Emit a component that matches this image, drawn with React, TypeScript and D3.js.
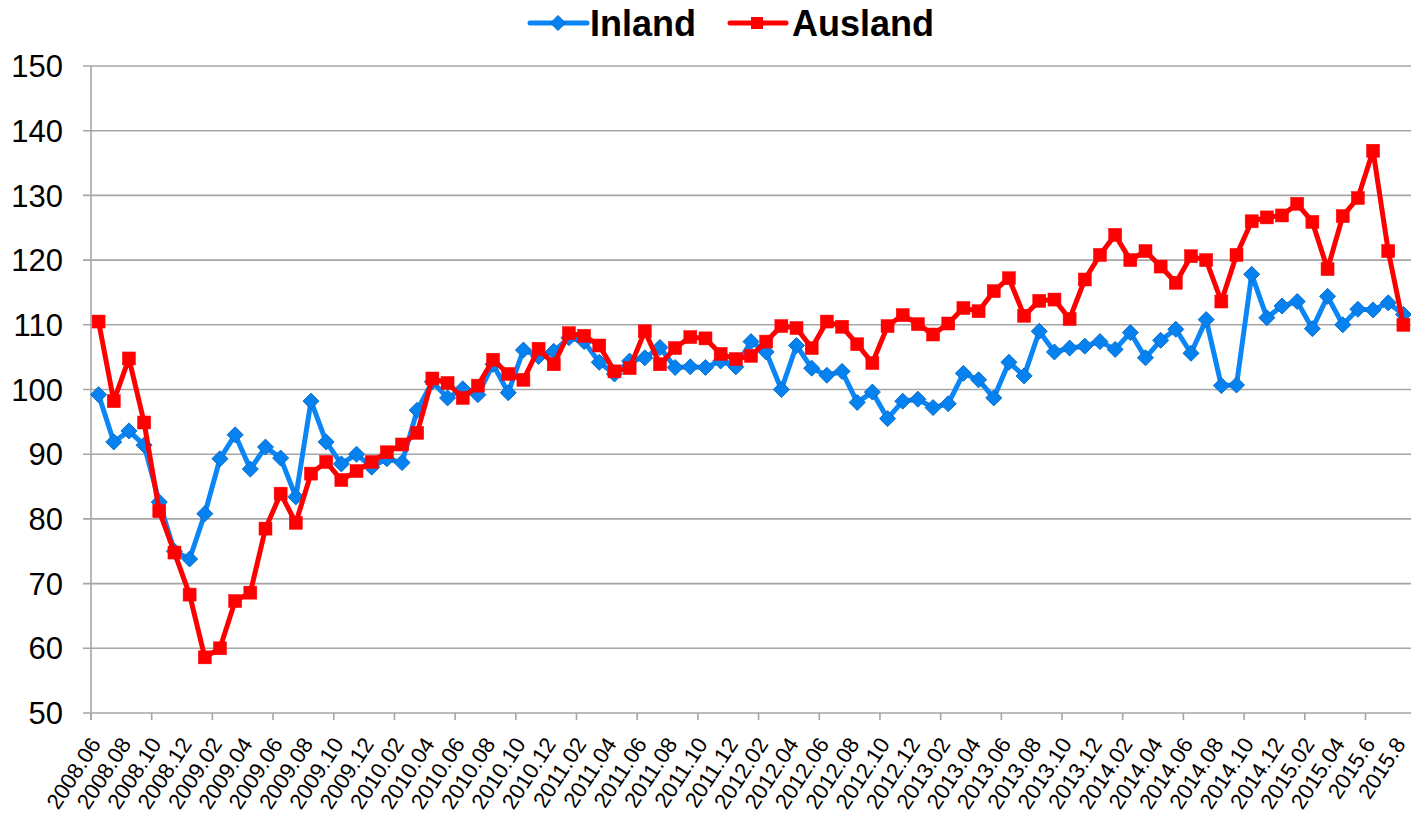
import React from "react";
import * as d3 from "d3";

const categories = [
  "2008.06","2008.07","2008.08","2008.09","2008.10","2008.11","2008.12",
  "2009.01","2009.02","2009.03","2009.04","2009.05","2009.06","2009.07","2009.08","2009.09","2009.10","2009.11","2009.12",
  "2010.01","2010.02","2010.03","2010.04","2010.05","2010.06","2010.07","2010.08","2010.09","2010.10","2010.11","2010.12",
  "2011.01","2011.02","2011.03","2011.04","2011.05","2011.06","2011.07","2011.08","2011.09","2011.10","2011.11","2011.12",
  "2012.01","2012.02","2012.03","2012.04","2012.05","2012.06","2012.07","2012.08","2012.09","2012.10","2012.11","2012.12",
  "2013.01","2013.02","2013.03","2013.04","2013.05","2013.06","2013.07","2013.08","2013.09","2013.10","2013.11","2013.12",
  "2014.01","2014.02","2014.03","2014.04","2014.05","2014.06","2014.07","2014.08","2014.09","2014.10","2014.11","2014.12",
  "2015.01","2015.02","2015.03","2015.04","2015.5","2015.6","2015.7","2015.8",
];

const inland = [
  99.2, 91.9, 93.6, 91.4, 82.6, 75.0, 73.8,
  80.8, 89.3, 93.0, 87.7, 91.1, 89.4, 83.4, 98.2, 91.9, 88.5, 90.0, 88.0,
  89.3, 88.7, 96.8, 101.2, 98.7, 100.1, 99.2, 103.9, 99.5, 106.1, 105.1, 105.9,
  108.0, 107.4, 104.2, 102.4, 104.4, 104.9, 106.5, 103.4, 103.5, 103.4, 104.4, 103.5,
  107.4, 105.8, 100.0, 106.8, 103.3, 102.2, 102.8, 98.0, 99.6, 95.5, 98.2, 98.5,
  97.2, 97.8, 102.5, 101.5, 98.7, 104.2, 102.1, 109.0, 105.8, 106.4, 106.7, 107.4,
  106.2, 108.8, 104.9, 107.6, 109.3, 105.6, 110.8, 100.6, 100.7, 117.8, 111.1, 112.9,
  113.6, 109.4, 114.4, 110.0, 112.4, 112.3, 113.4, 111.6,
];

const ausland = [
  110.5, 98.2, 104.8, 94.9, 81.2, 74.8, 68.3,
  58.6, 60.0, 67.3, 68.6, 78.5, 83.9, 79.4, 87.0, 88.8, 86.0, 87.4, 88.8,
  90.3, 91.5, 93.3, 101.7, 101.0, 98.7, 100.6, 104.6, 102.4, 101.5, 106.3, 103.9,
  108.7, 108.3, 106.8, 102.8, 103.3, 109.0, 103.9, 106.4, 108.1, 107.9, 105.5, 104.7,
  105.2, 107.4, 109.8, 109.5, 106.4, 110.5, 109.7, 107.0, 104.1, 109.8, 111.5, 110.1,
  108.5, 110.2, 112.6, 112.1, 115.2, 117.2, 111.4, 113.7, 113.9, 110.9, 117.0, 120.8,
  123.9, 120.0, 121.4, 119.0, 116.5, 120.6, 120.0, 113.6, 120.8, 126.0, 126.6, 126.9,
  128.7, 125.9, 118.6, 126.8, 129.6, 136.9, 121.4, 110.0,
];

const yTicks = [50, 60, 70, 80, 90, 100, 110, 120, 130, 140, 150];

const W = 1411;
const H = 816;
const left = 91;
const right = 1411;
const top = 66;
const bottom = 713;
const FONT = "'Liberation Sans', Arial, Helvetica, sans-serif";
const BLUE = "#0a86f7";
const BLUE_FILL = "#0682f0";
const BLUE_STROKE = "#0a6cc8";
const RED = "#ff0000";
const GRID = "#a6a6a6";

export default function App() {
  const x = d3.scaleBand<string>().domain(categories).range([left, right]).padding(0);
  const bw = x.bandwidth();
  const cx = (c: string) => (x(c) as number) + bw / 2;
  const y = d3.scaleLinear().domain([50, 150]).range([bottom, top]);

  const line = d3
    .line<number>()
    .x((_, i) => cx(categories[i]))
    .y((d) => y(d));

  const diamond = (px: number, py: number, r: number) =>
    `M${px},${py - r}L${px + r},${py}L${px},${py + r}L${px - r},${py}Z`;

  const tickIdx = categories.map((_, i) => i).filter((i) => i % 4 === 0);
  const labelIdx = categories.map((_, i) => i).filter((i) => i % 2 === 0);

  return (
    <div style={{ position: "absolute", left: 0, top: 0, width: W, height: H, background: "#fff" }}>
      <svg width={W} height={H} style={{ display: "block" }} fontFamily={FONT}>
        <rect x={0} y={0} width={W} height={H} fill="#fff" />
        {/* gridlines */}
        {yTicks.map((t) => (
          <line key={"g" + t} x1={left - 8} x2={right} y1={y(t)} y2={y(t)} stroke={GRID} strokeWidth={1.6} />
        ))}
        {/* y axis */}
        <line x1={left} x2={left} y1={top} y2={bottom + 7} stroke={GRID} strokeWidth={1.6} />
        {yTicks.map((t) => (
          <text key={"yl" + t} x={63} y={y(t)} dy="0.36em" textAnchor="end" fontSize={31} fill="#000">
            {t}
          </text>
        ))}
        {/* x ticks */}
        {tickIdx.map((i) => (
          <line
            key={"xt" + i}
            x1={x(categories[i]) as number}
            x2={x(categories[i]) as number}
            y1={bottom}
            y2={bottom + 7}
            stroke={GRID}
            strokeWidth={1.6}
          />
        ))}
        {/* x labels */}
        {labelIdx.map((i) => (
          <text
            key={"xl" + i}
            transform={`translate(${cx(categories[i]) + 3},${bottom + 31}) rotate(-57)`}
            textAnchor="end"
            fontSize={22}
            fill="#000"
          >
            {categories[i]}
          </text>
        ))}
        {/* Inland series */}
        <path d={line(inland) || ""} fill="none" stroke={BLUE} strokeWidth={5} strokeLinejoin="round" />
        {inland.map((v, i) => (
          <path
            key={"im" + i}
            d={diamond(cx(categories[i]), y(v), 8)}
            fill={BLUE_FILL}
            stroke={BLUE_STROKE}
            strokeWidth={1}
          />
        ))}
        {/* Ausland series */}
        <path d={line(ausland) || ""} fill="none" stroke={RED} strokeWidth={5} strokeLinejoin="round" />
        {ausland.map((v, i) => (
          <rect
            key={"am" + i}
            x={cx(categories[i]) - 6.5}
            y={y(v) - 6.5}
            width={13}
            height={13}
            fill={RED}
            stroke={RED}
            strokeWidth={0.5}
          />
        ))}
        {/* legend */}
        <line x1={530} x2={587} y1={23} y2={23} stroke={BLUE} strokeWidth={5} strokeLinecap="round" />
        <path d={diamond(558, 23, 7.5)} fill={BLUE_FILL} stroke={BLUE_STROKE} strokeWidth={1} />
        <text x={590} y={36} fontSize={36} fontWeight="bold" fill="#000">
          Inland
        </text>
        <line x1={730} x2={786} y1={23} y2={23} stroke={RED} strokeWidth={5} strokeLinecap="round" />
        <rect x={751} y={17} width={12} height={12} fill={RED} />
        <text x={792} y={36} fontSize={36} fontWeight="bold" fill="#000">
          Ausland
        </text>
      </svg>
    </div>
  );
}
